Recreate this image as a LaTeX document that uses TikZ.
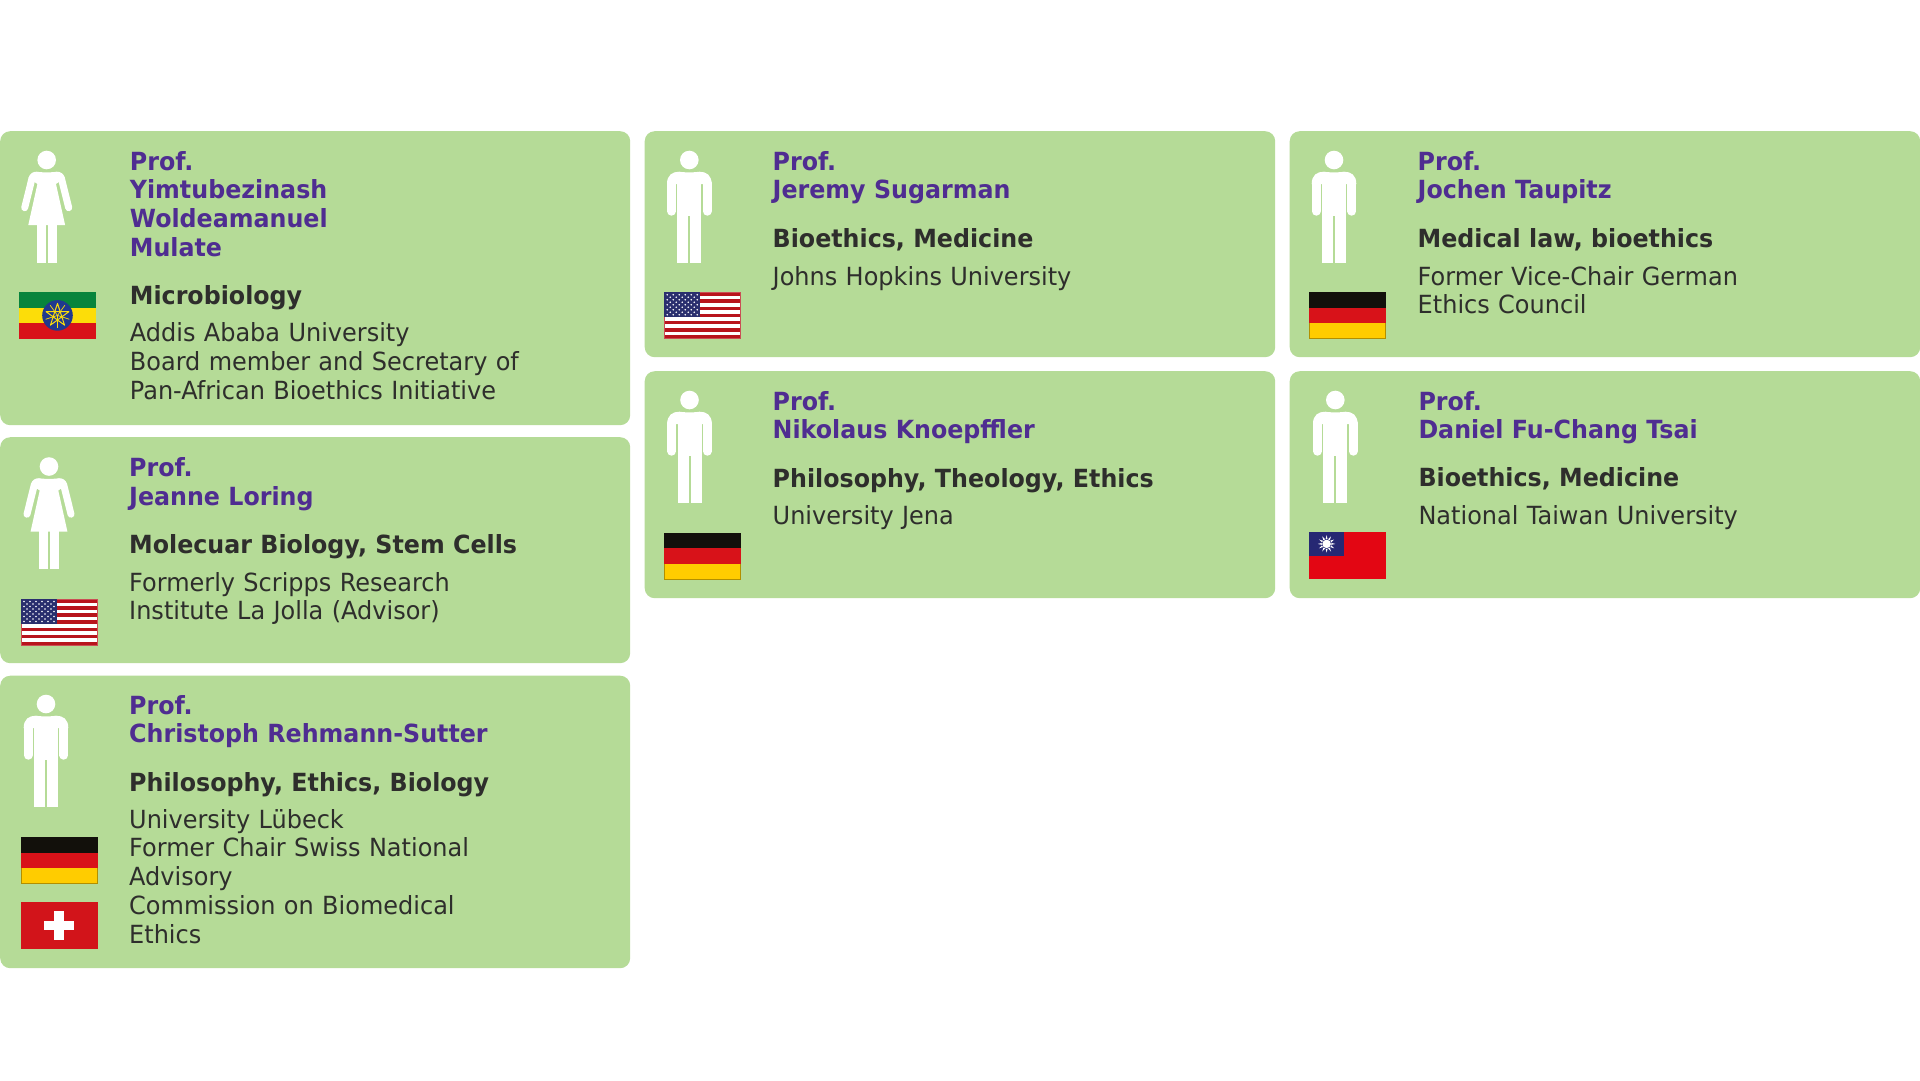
\documentclass[tikz,border=0pt]{standalone}
\usepackage{fontspec}
\setmainfont[FakeStretch=0.96,BoldFeatures={FakeStretch=0.95}]{DejaVu Sans}
\definecolor{cardgreen}{HTML}{B5DB97}
\definecolor{namepurple}{HTML}{4F2D91}
\definecolor{inkdark}{HTML}{2E2E2C}
\definecolor{flagblack}{HTML}{12100B}
\definecolor{flagred}{HTML}{D81219}
\definecolor{flaggold}{HTML}{FFCC00}
\definecolor{usred}{HTML}{B8141C}
\definecolor{usblue}{HTML}{2A2F6E}
\definecolor{etgreen}{HTML}{07843C}
\definecolor{etyellow}{HTML}{FCDD09}
\definecolor{etblue}{HTML}{20398E}
\definecolor{twred}{HTML}{E30613}
\definecolor{twblue}{HTML}{262873}
\definecolor{chred}{HTML}{D2141A}
\tikzset{
  card/.style={fill=cardgreen,rounded corners=10pt,inner sep=0pt,anchor=north west},
  nameblock/.style={anchor=base west,inner sep=0pt,text width=490pt,align=left,text=namepurple,
    font=\fontsize{25}{28.8}\selectfont\bfseries},
  fieldblock/.style={anchor=base west,inner sep=0pt,text width=490pt,align=left,text=inkdark,
    font=\fontsize{25}{28.8}\selectfont\bfseries},
  affblock/.style={anchor=base west,inner sep=0pt,text width=490pt,align=left,text=inkdark,
    font=\fontsize{25}{28.8}\selectfont},
}
\newcommand{\personmale}[2]{%
  \begin{scope}[shift={(#1,#2)}]
    \fill[white] (0,0) circle[radius=9.3];
    \fill[white] (-22.3,24) .. controls (-22.3,15) and (-17,11.7) .. (-10,11.7)
      .. controls (-5,12.6) and (5,12.6) .. (10,11.7)
      .. controls (17,11.7) and (22.3,15) .. (22.3,24) -- (-22.3,24) -- cycle;
    \draw[white,line width=9pt,line cap=round] (-17.8,23) -- (-17.8,51.2);
    \draw[white,line width=9pt,line cap=round] (17.8,23) -- (17.8,51.2);
    \fill[white] (-12,20) rectangle (12,55.7);
    \fill[white] (-12,55.7) rectangle (-1,102.7);
    \fill[white] (1,55.7) rectangle (12,102.7);
  \end{scope}}
\newcommand{\personfemale}[2]{%
  \begin{scope}[shift={(#1,#2)}]
    \fill[white] (0,0) circle[radius=9.3];
    \fill[white] (-18,18) .. controls (-17,13.5) and (-14,11.7) .. (-10,11.7)
      .. controls (-5,12.6) and (5,12.6) .. (10,11.7)
      .. controls (14,11.7) and (17,13.5) .. (18,18) -- (9.3,24) -- (18.4,65)
      -- (-18.4,65) -- (-9.3,24) -- cycle;
    \draw[white,line width=7pt,line cap=round] (-14.6,18) -- (-22,47.7);
    \draw[white,line width=7pt,line cap=round] (14.6,18) -- (22,47.7);
    \fill[white] (-10,64) rectangle (-1,102.7);
    \fill[white] (1,64) rectangle (10,102.7);
  \end{scope}}
\newcommand{\flagDE}[2]{%
  \begin{scope}[shift={(#1,#2)}]
    \fill[flagblack] (0,0) rectangle (76.5,15.5);
    \fill[flagred] (0,15.5) rectangle (76.5,31);
    \fill[flaggold] (0,31) rectangle (76.5,46.5);
    \draw[flaggold!70!black,line width=.5pt] (0,31) -- (0,46.5) -- (76.5,46.5) -- (76.5,31);
  \end{scope}}
\newcommand{\flagUS}[2]{%
  \begin{scope}[shift={(#1,#2)}]
    \fill[white] (0,0) rectangle (76.5,46.5);
    \foreach \s in {0,2,...,12}{\fill[usred] (0,{\s*46.5/13}) rectangle (76.5,{(\s+1)*46.5/13});}
    \fill[usblue] (0,0) rectangle (35.5,25);
    \foreach \r in {0,...,8}{
      \pgfmathtruncatemacro{\nn}{mod(\r,2)==0 ? 5 : 4}
      \pgfmathsetmacro{\off}{mod(\r,2)==0 ? 3 : 6}
      \foreach \c in {0,...,\nn}{\fill[white] ({\off+\c*6},{2.5+\r*2.5}) circle[radius=.85];}
    }
    \draw[usred!75!white,line width=.5pt] (35.5,0) -- (76.5,0) -- (76.5,46.5) -- (0,46.5) -- (0,25);
  \end{scope}}
\newcommand{\flagET}[2]{%
  \begin{scope}[shift={(#1,#2)}]
    \fill[etgreen] (0,0) rectangle (76.5,15.5);
    \fill[etyellow] (0,15.5) rectangle (76.5,31);
    \fill[flagred] (0,31) rectangle (76.5,46.5);
    \fill[etblue] (38.2,23.2) circle[radius=15.3];
    \draw[etyellow,line width=1pt,line join=round]
      (38.2,11.2) -- ++(7.05,21.7) -- ++(-18.46,-13.41) -- ++(22.82,0) -- ++(-18.46,13.41) -- cycle;
    \foreach \a in {-90,-18,54,126,198}{\draw[etyellow,line width=.7pt] (38.2,23.2) -- ++(\a+36:12.5);}
  \end{scope}}
\newcommand{\flagTW}[2]{%
  \begin{scope}[shift={(#1,#2)}]
    \fill[twred] (0,0) rectangle (76.5,46.5);
    \fill[twblue] (0,0) rectangle (35.2,23.3);
    \foreach \a in {0,30,...,330}{
      \fill[white] ({17.6+4.6*cos(\a-13)},{11.6+4.6*sin(\a-13)})
        -- ({17.6+8.8*cos(\a)},{11.6+8.8*sin(\a)})
        -- ({17.6+4.6*cos(\a+13)},{11.6+4.6*sin(\a+13)}) -- cycle;}
    \fill[twblue] (17.6,11.6) circle[radius=4.9];
    \fill[white] (17.6,11.6) circle[radius=4.3];
  \end{scope}}
\newcommand{\flagCH}[2]{%
  \begin{scope}[shift={(#1,#2)}]
    \fill[chred] (0,0) rectangle (76.5,46.5);
    \fill[white] (23.2,18.5) rectangle (52.7,28);
    \fill[white] (33.2,8.5) rectangle (42.7,38);
  \end{scope}}
\begin{document}
\begin{tikzpicture}[x=1pt,y=-1pt]
\useasboundingbox (0,0) rectangle (1920,1080);
% cards
\node[card,minimum width=630pt,minimum height=294pt] (cardA) at (0,131) {};
\node[card,minimum width=630pt,minimum height=226pt] (cardB) at (0,437) {};
\node[card,minimum width=630pt,minimum height=292.5pt] (cardC) at (0,675.5) {};
\node[card,minimum width=630.5pt,minimum height=226pt] (cardD) at (644.5,131) {};
\node[card,minimum width=630.5pt,minimum height=227pt] (cardE) at (644.5,371) {};
\node[card,minimum width=630.5pt,minimum height=226pt] (cardF) at (1289.5,131) {};
\node[card,minimum width=630.5pt,minimum height=227pt] (cardG) at (1289.5,371) {};
% icons and flags
\personfemale{46.7}{160} \flagET{19.3}{292.2}
\personfemale{49}{466.5} \flagUS{21}{599}
\personmale{46}{704} \flagDE{21.2}{837} \flagCH{21.2}{902}
\personmale{689.3}{160} \flagUS{664.2}{292.2}
\personmale{1334}{160} \flagDE{1309}{292.2}
\personmale{689.5}{400} \flagDE{664.2}{532.5}
\personmale{1335.3}{400} \flagTW{1309}{532.3}
% texts
\node[nameblock] (nA) at (129.7,170) {Prof.\\Yimtubezinash\\Woldeamanuel\\Mulate};
\node[fieldblock] (fA) at (129.7,304.3) {Microbiology};
\node[affblock] (aA) at (129.7,341.6) {Addis Ababa University\\Board member and Secretary of\\Pan-African Bioethics Initiative};
\node[nameblock] (nB) at (129,476.3) {Prof.\\Jeanne Loring};
\node[fieldblock] (fB) at (129,553.5) {Molecuar Biology, Stem Cells};
\node[affblock] (aB) at (129,591) {Formerly Scripps Research\\Institute La Jolla (Advisor)};
\node[nameblock] (nC) at (129,714) {Prof.\\Christoph Rehmann-Sutter};
\node[fieldblock] (fC) at (129,791.7) {Philosophy, Ethics, Biology};
\node[affblock] (aC) at (129,828) {University Lübeck\\Former Chair Swiss National\\Advisory\\Commission on Biomedical\\Ethics};
\node[nameblock] (nD) at (772.5,170) {Prof.\\Jeremy Sugarman};
\node[fieldblock] (fD) at (772.5,247) {Bioethics, Medicine};
\node[affblock] (aD) at (772.5,285) {Johns Hopkins University};
\node[nameblock] (nE) at (772.5,410) {Prof.\\Nikolaus Knoepffler};
\node[fieldblock] (fE) at (772.5,487) {Philosophy, Theology, Ethics};
\node[affblock] (aE) at (772.5,524.5) {University Jena};
\node[nameblock] (nF) at (1417.5,170) {Prof.\\Jochen Taupitz};
\node[fieldblock] (fF) at (1417.5,247) {Medical law, bioethics};
\node[affblock] (aF) at (1417.5,285) {Former Vice-Chair German\\Ethics Council};
\node[nameblock] (nG) at (1418.3,410) {Prof.\\Daniel Fu-Chang Tsai};
\node[fieldblock] (fG) at (1418.3,486.5) {Bioethics, Medicine};
\node[affblock] (aG) at (1418.3,524) {National Taiwan University};
\end{tikzpicture}
\end{document}
